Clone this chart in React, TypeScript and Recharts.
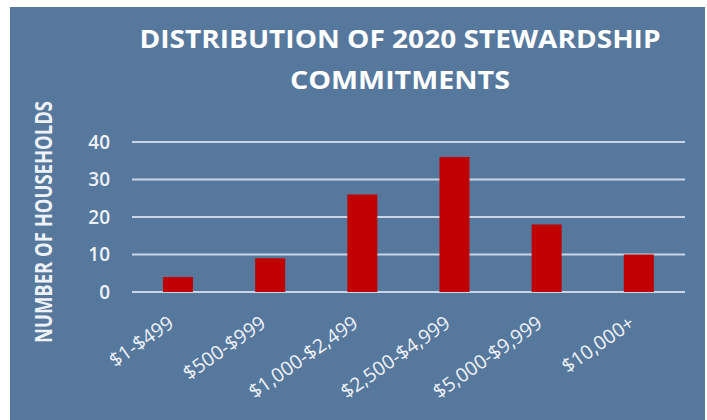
import React from 'react';
import { BarChart, Bar, XAxis, YAxis, CartesianGrid } from 'recharts';

const categories = ['$1-$499', '$500-$999', '$1,000-$2,499', '$2,500-$4,999', '$5,000-$9,999', '$10,000+'];
const households = [4, 9, 26, 36, 18, 10];
const yTicks = [0, 10, 20, 30, 40];

const data = categories.map((range, i) => ({ range, households: households[i] }));

const FONT = '"Open Sans", "Noto Sans", sans-serif';
const TEXT = '#eef2f7';

const RangeTick = (props: any) => {
  const { x, y, payload } = props;
  return (
    <g transform={`translate(${x - 3},${y + 34})`}>
      <text
        x={0}
        y={0}
        textAnchor="end"
        transform="rotate(-35)"
        fill={TEXT}
        fontSize={19.5}
        fontFamily={FONT}
        fontWeight={500}
      >
        {payload.value}
      </text>
    </g>
  );
};

const App: React.FC = () => {
  return (
    <div style={{ position: 'absolute', left: 0, top: 0, width: 707, height: 420, background: '#ffffff' }}>
      <div style={{ position: 'absolute', left: 10, top: 7, width: 695, height: 413, background: '#56789d' }}>
        <BarChart
          width={695}
          height={413}
          data={data}
          margin={{ top: 135, right: 20, left: 0, bottom: 0 }}
        >
          <CartesianGrid vertical={false} stroke="#c9d5e5" strokeWidth={2} />
          <XAxis
            dataKey="range"
            height={128}
            axisLine={false}
            tickLine={false}
            tickSize={0}
            tickMargin={0}
            interval={0}
            tick={<RangeTick />}
          />
          <YAxis
            width={122}
            domain={[0, 40]}
            ticks={yTicks}
            axisLine={false}
            tickLine={false}
            tickSize={0}
            tickMargin={22}
            tick={{ fill: TEXT, fontSize: 19, fontFamily: FONT, fontWeight: 600 }}
          />
          <Bar dataKey="households" fill="#c00000" barSize={30} isAnimationActive={false} />
        </BarChart>
      </div>
      <svg
        width={707}
        height={420}
        style={{ position: 'absolute', left: 0, top: 0, pointerEvents: 'none' }}
      >
        <g fill="#ffffff" fontFamily={FONT} fontWeight={700}>
          <text x={400} y={48} fontSize={25} textAnchor="middle" textLength={521} lengthAdjust="spacingAndGlyphs">
            DISTRIBUTION OF 2020 STEWARDSHIP
          </text>
          <text x={400} y={89} fontSize={25} textAnchor="middle" textLength={220} lengthAdjust="spacingAndGlyphs">
            COMMITMENTS
          </text>
        </g>
        <text
          transform="translate(52,222) rotate(-90)"
          textAnchor="middle"
          fill={TEXT}
          fontFamily={FONT}
          fontWeight={700}
          fontSize={24}
          textLength={242}
          lengthAdjust="spacingAndGlyphs"
        >
          NUMBER OF HOUSEHOLDS
        </text>
      </svg>
    </div>
  );
};

export default App;
